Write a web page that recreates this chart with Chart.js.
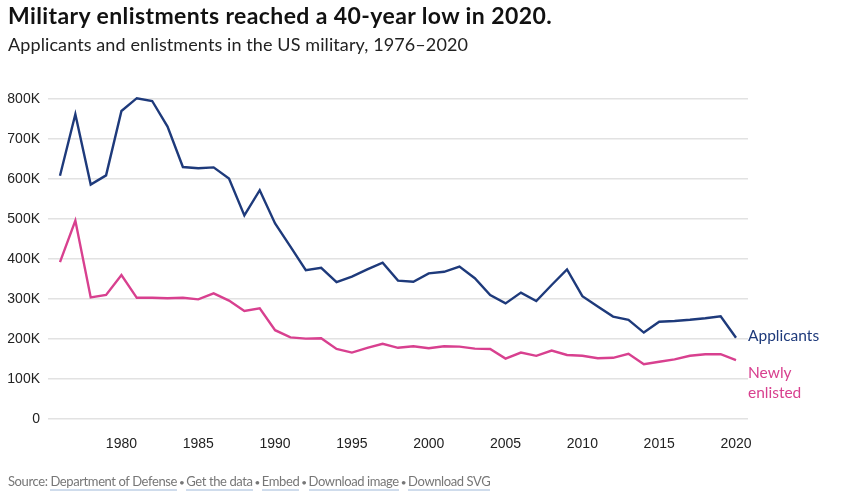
<!DOCTYPE html>
<html>
<head>
<meta charset="utf-8">
<script src="https://cdn.jsdelivr.net/npm/chart.js@4"></script>
<style>
  body { margin: 0; background: #fff; font-family: Lato, sans-serif; }
  #wrap { position: relative; width: 851px; height: 500px; }
  #chart { position: absolute; left: 0; top: 0; }
  .title { position: absolute; left: 8px; top: 1px; font-size: 23px; letter-spacing: 0.4px; font-weight: bold; color: #111; }
  .sub { position: absolute; left: 8px; top: 33px; font-size: 18px; letter-spacing: 0.1px; color: #222; }
  .source { position: absolute; left: 8px; top: 473px; font-size: 13px; letter-spacing: -0.4px; color: #777; }
  .source a { color: #777; text-decoration: none; border-bottom: 2px solid #cfdcec; }
  .source .dot { font-size: 10px; margin: 0 -1px; }
</style>
</head>
<body>
<div id="wrap">
  <canvas id="chart" width="851" height="500"></canvas>
  <div class="title">Military enlistments reached a 40-year low in 2020.</div>
  <div class="sub">Applicants and enlistments in the US military, 1976–2020</div>
  <div class="source">Source: <a>Department of Defense</a> <span class="dot">•</span> <a>Get the data</a> <span class="dot">•</span> <a>Embed</a> <span class="dot">•</span> <a>Download image</a> <span class="dot">•</span> <a>Download SVG</a></div>
</div>
<script>
var years = [];
for (var y = 1976; y <= 2020; y++) years.push(y);

// thousands
var applicants = [608, 762, 586, 609, 770, 802, 795, 731, 630, 627, 629, 601, 509, 572, 489,
  431, 372, 378, 342, 356, 374, 391, 346, 343, 364, 368, 381, 352, 310, 289,
  316, 295, 335, 374, 307, 281, 256, 248, 216, 243, 245, 248, 252, 257, 203];
var enlisted = [392, 496, 304, 310, 360, 303, 303, 302, 303, 299, 314, 296, 270, 277, 222,
  204, 201, 202, 175, 166, 178, 188, 178, 182, 177, 182, 181, 176, 175, 151,
  166, 158, 171, 160, 158, 152, 153, 163, 137, 143, 149, 158, 162, 162, 147];

var xTicks = [1980, 1985, 1990, 1995, 2000, 2005, 2010, 2015, 2020];
var yTicks = [0, 100, 200, 300, 400, 500, 600, 700, 800];

var navy = '#1e3a7b';
var pink = '#d8408f';

var endLabels = {
  id: 'endLabels',
  afterDatasetsDraw: function (chart) {
    var ctx = chart.ctx;
    var x = chart.chartArea.right;
    ctx.save();
    ctx.font = '15.5px Lato, sans-serif';
    ctx.textAlign = 'left';
    ctx.textBaseline = 'middle';
    var p0 = chart.getDatasetMeta(0).data[applicants.length - 1];
    ctx.fillStyle = navy;
    ctx.fillText('Applicants', x, p0.y - 2);
    var p1 = chart.getDatasetMeta(1).data[enlisted.length - 1];
    ctx.fillStyle = pink;
    ctx.fillText('Newly', x, p1.y + 13);
    ctx.fillText('enlisted', x, p1.y + 33);
    ctx.restore();
  }
};

new Chart(document.getElementById('chart'), {
  type: 'line',
  data: {
    datasets: [
      { label: 'Applicants', data: years.map(function (yr, i) { return { x: yr, y: applicants[i] }; }),
        borderColor: navy, borderWidth: 2.4, pointRadius: 0, tension: 0, clip: false },
      { label: 'Newly enlisted', data: years.map(function (yr, i) { return { x: yr, y: enlisted[i] }; }),
        borderColor: pink, borderWidth: 2.4, pointRadius: 0, tension: 0, clip: false }
    ]
  },
  options: {
    responsive: false,
    animation: false,
    layout: { padding: { top: 99, right: 103, bottom: 51, left: 0 } },
    plugins: { legend: { display: false }, tooltip: { enabled: false } },
    scales: {
      x: {
        type: 'linear',
        min: 1975.22,
        max: 2020.78,
        grid: { display: false },
        border: { display: false },
        afterBuildTicks: function (s) { s.ticks = xTicks.map(function (v) { return { value: v }; }); },
        afterFit: function (s) { s.height = 30; },
        ticks: { padding: 9, color: '#222', font: { family: 'Liberation Sans', size: 14 }, maxRotation: 0,
          callback: function (v) { return String(v); } }
      },
      y: {
        min: 0,
        max: 800,
        grid: { color: '#e2e2e2', lineWidth: 1.5, drawTicks: false },
        border: { display: false },
        afterBuildTicks: function (s) { s.ticks = yTicks.map(function (v) { return { value: v }; }); },
        afterFit: function (s) { s.width = 48; },
        ticks: { padding: 8, color: '#222', font: { family: 'Liberation Sans', size: 14 },
          callback: function (v) { return v === 0 ? '0' : v + 'K'; } }
      }
    }
  },
  plugins: [endLabels]
});
</script>
</body>
</html>
